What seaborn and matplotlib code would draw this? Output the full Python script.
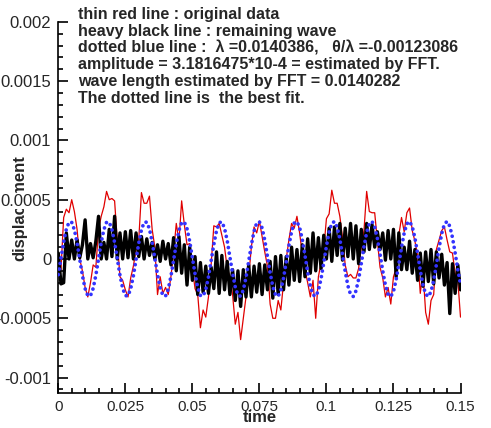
import numpy as np
import pandas as pd
import matplotlib
matplotlib.use("Agg")
import matplotlib.pyplot as plt
import seaborn as sns
from matplotlib.ticker import MultipleLocator, FixedLocator, FixedFormatter

# ---------------- data (values in units of 1e-4) ----------------
n_samples = 151
dt = 0.001

blue_fit = [
    -1.32, 0.06, 1.43, 2.52, 3.11, 3.09, 2.46, 1.35, -0.03, -1.41,
    -2.50, -3.10, -3.10, -2.48, -1.37, 0.01, 1.38, 2.48, 3.10, 3.10,
    2.49, 1.40, 0.02, -1.36, -2.47, -3.09, -3.11, -2.51, -1.42, -0.05,
    1.33, 2.45, 3.09, 3.11, 2.53, 1.44, 0.08, -1.31, -2.43, -3.08,
    -3.12, -2.54, -1.47, -0.10, 1.28, 2.41, 3.07, 3.12, 2.56, 1.49,
    0.13, -1.26, -2.40, -3.07, -3.13, -2.58, -1.52, -0.16, 1.23, 2.38,
    3.06, 3.13, 2.59, 1.54, 0.19, -1.21, -2.36, -3.05, -3.14, -2.61,
    -1.57, -0.21, 1.18, 2.34, 3.04, 3.14, 2.62, 1.59, 0.24, -1.15,
    -2.32, -3.03, -3.15, -2.64, -1.61, -0.27, 1.13, 2.30, 3.03, 3.15,
    2.66, 1.64, 0.30, -1.10, -2.29, -3.02, -3.15, -2.67, -1.66, -0.32,
    1.08, 2.27, 3.01, 3.16, 2.68, 1.69, 0.35, -1.05, -2.25, -3.00,
    -3.16, -2.70, -1.71, -0.38, 1.03, 2.23, 2.99, 3.16, 2.71, 1.73,
    0.40, -1.00, -2.21, -2.98, -3.17, -2.73, -1.75, -0.43, 0.97, 2.19,
    2.97, 3.17, 2.74, 1.78, 0.46, -0.95, -2.17, -2.96, -3.17, -2.76,
    -1.80, -0.49, 0.92, 2.15, 2.95, 3.17, 2.77, 1.82, 0.51, -0.90,
    -2.13,
]

black_remaining = [
    0.5, -2.1, -2.0, 2.2, 0.0, 1.6, 0.0, 1.6, 0.1, 1.2,
    3.3, 0.0, 1.3, 0.1, 1.5, 3.6, 0.0, 1.4, 0.0, 2.5,
    0.2, 3.6, 0.0, 2.2, 0.0, 2.3, 0.1, 2.4, 0.0, 2.2,
    0.2, 1.9, 0.0, 1.7, 0.3, 1.4, 0.0, 1.2, -0.2, 1.5,
    0.0, 1.3, -0.5, 1.8, -1.0, 1.9, -1.2, 1.2, -2.2, 1.0,
    -1.8, 0.2, -3.0, -0.3, -2.8, -0.6, -2.9, -0.7, -2.5, 0.6,
    -2.9, 0.3, -2.6, -0.2, -3.0, -0.9, -3.5, -1.0, -4.0, -0.9,
    -3.2, -0.5, -3.2, -0.6, -2.8, -0.4, -3.0, -0.5, -2.6, -0.2,
    -3.3, 0.2, -3.0, 0.3, -2.6, 0.2, -2.2, 1.0, -1.8, 0.8,
    -1.9, 1.2, -1.5, 1.7, -1.2, 2.2, -1.0, 1.8, -0.8, 2.0,
    0.0, 2.6, -0.2, 2.7, 0.3, 3.0, -0.1, 2.6, 0.2, 3.0,
    0.0, 2.8, -0.4, 2.5, 0.6, 3.0, 0.8, 2.9, 1.0, 2.3,
    0.8, 2.2, -0.1, 2.4, 0.0, 2.5, -1.5, 2.2, -0.9, 1.0,
    -0.9, 1.5, -1.2, 0.8, -1.8, 0.5, -2.3, 0.6, -1.9, 0.8,
    -2.1, 0.6, -1.6, 0.4, -2.2, -0.3, -4.6, -0.4, -2.9, -0.5,
    -2.6,
]

red_original = [
    -0.6, -0.9, 3.5, 4.2, 3.9, 5.0, 4.0, 2.5, 0.0, -1.0,
    -2.4, -3.2, -2.0, -0.5, -0.7, 2.5, 3.6, 4.4, 5.7, 5.0,
    5.1, 4.9, 1.5, -1.5, -1.8, -2.6, -3.2, -1.6, -0.6, 0.8,
    1.6, 5.6, 4.7, 4.7, 5.3, 2.5, 1.0, -3.0, -1.5, -2.9,
    -2.4, -3.0, -1.5, 0.5, 3.0, 1.5, 4.9, 2.9, 1.2, 1.3,
    -0.8, -2.5, -3.0, -5.8, -4.3, -4.9, -3.2, -0.5, 2.8, 2.7,
    3.0, 2.0, 1.0, -0.8, -1.5, -3.0, -5.5, -4.5, -6.8, -5.0,
    -3.2, -1.5, 1.0, 2.7, 2.2, 3.2, 1.9, 0.6, -0.6, -3.8,
    -5.0, -5.0, -3.5, -4.3, -2.0, 0.0, 1.6, 3.0, 2.6, 3.6,
    2.2, 0.4, -0.9, -2.0, -3.2, -1.8, -5.0, -1.5, -0.3, 0.8,
    3.4, 3.8, 5.8, 4.7, 4.7, 3.6, 1.8, -0.5, -1.5, -1.3,
    -1.6, -1.6, -0.8, 1.0, 2.4, 5.7, 4.0, 3.9, 3.9, 1.5,
    -0.7, -1.6, -3.2, -2.4, -3.8, -1.5, -0.8, 2.0, 3.5, 2.3,
    3.9, 4.3, 2.4, 1.5, 0.3, -2.9, -1.0, -4.5, -5.5, -3.5,
    -3.0, 0.8, 1.6, 2.4, 2.7, 1.6, 0.6, 0.5, -1.2, -1.8,
    -4.9,
]

x_ticks = [0, 0.025, 0.05, 0.075, 0.1, 0.125, 0.15]
x_tick_labels = ["0", "0.025", "0.05", "0.075", "0.1", "0.125", "0.15"]
y_ticks = [-0.001, -0.0005, 0, 0.0005, 0.001, 0.0015, 0.002]
y_tick_labels = ["-0.001", "-0.0005", "0", "0.0005", "0.001", "0.0015", "0.002"]

note_lines = [
    "thin red line : original data",
    "heavy black line : remaining wave",
    "dotted blue line :  \u03bb =0.0140386,   \u03b8/\u03bb =-0.00123086",
    "amplitude = 3.1816475*10-4 = estimated by FFT.",
    "wave length estimated by FFT = 0.0140282",
    "The dotted line is  the best fit.",
]

time = np.arange(n_samples) * dt
df = pd.DataFrame({
    "time": time,
    "red": np.array(red_original) * 1e-4,
    "black": np.array(black_remaining) * 1e-4,
    "blue": np.array(blue_fit) * 1e-4,
})

# ---------------- style ----------------
sns.set_style("white")
plt.rcParams["font.family"] = ["Liberation Sans", "DejaVu Sans"]

W, H = 491, 428
fig = plt.figure(figsize=(W / 100, H / 100), dpi=100)
ax = fig.add_axes([58.3 / W, 1 - 393 / H, (460.5 - 58.3) / W, (393 - 21.8) / H])

sns.lineplot(data=df, x="time", y="red", color="#e00000", lw=0.9,
             estimator=None, sort=False, ax=ax, zorder=2)
sns.lineplot(data=df, x="time", y="black", color="black", lw=2.4,
             estimator=None, sort=False, ax=ax, zorder=3)
sns.lineplot(data=df, x="time", y="blue", color="#3333ff", lw=2.7,
             estimator=None, sort=False, ax=ax, zorder=4,
             linestyle=(0, (0.01, 1.5)), dash_capstyle="round")

ax.set_xlim(0, 0.15)
ax.set_ylim(-0.00113, 0.002)

for s in ["top", "right"]:
    ax.spines[s].set_visible(False)
for s in ["left", "bottom"]:
    ax.spines[s].set_color("black")
    ax.spines[s].set_linewidth(1.2)

ax.xaxis.set_major_locator(FixedLocator(x_ticks))
ax.xaxis.set_major_formatter(FixedFormatter(x_tick_labels))
ax.xaxis.set_minor_locator(MultipleLocator(0.005))
ax.yaxis.set_major_locator(FixedLocator(y_ticks))
ax.yaxis.set_major_formatter(FixedFormatter(y_tick_labels))
ax.yaxis.set_minor_locator(MultipleLocator(0.0001))

ax.tick_params(which="both", direction="in", color="black", width=1.2,
               bottom=True, left=True, top=False, right=False)
ax.tick_params(axis="x", which="major", length=7, labelsize=11, pad=5)
ax.tick_params(axis="y", which="major", length=7, labelsize=12, pad=5)
ax.tick_params(which="minor", length=3.6)

for lab in ax.get_yticklabels():
    lab.set_bbox(dict(facecolor="white", edgecolor="none", pad=0.5))

ax.set_xlabel("time", fontsize=12, fontweight="bold", labelpad=0)
ax.xaxis.set_label_coords(0.5, -0.045)
ax.set_ylabel("")

# y label drawn beneath the tick labels (as in the reference)
fig.text(20 / W, 1 - 208 / H, "displacement", rotation=90, fontsize=12,
         fontweight="bold", ha="center", va="center", zorder=-1)

baselines = [19.3, 36.0, 52.7, 69.4, 86.0, 102.7]
for txt, yb in zip(note_lines, baselines):
    fig.text(78 / W, 1 - yb / H, txt, fontsize=11.5, fontweight="bold",
             va="baseline", ha="left")

fig.savefig("out.png", dpi=100)
